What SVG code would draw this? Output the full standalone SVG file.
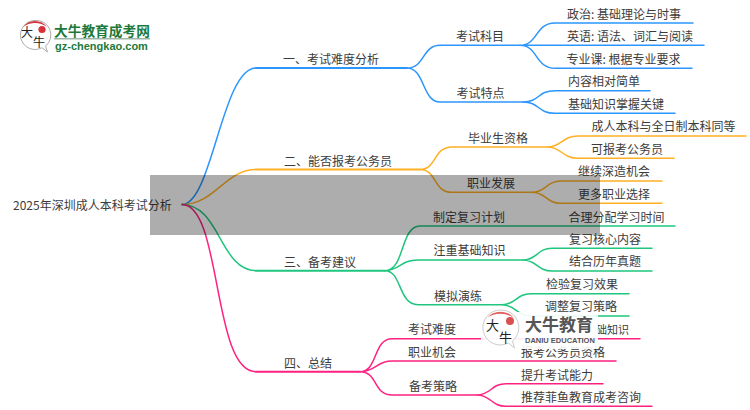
<svg xmlns="http://www.w3.org/2000/svg" width="750" height="410" viewBox="0 0 750 410">
<style>
text{font-family:"Noto Sans CJK SC","Noto Sans",sans-serif;font-size:12px;fill:#3c3c3c}
.c{fill:none;stroke-width:1.5;stroke-linecap:round}
.m{stroke-width:2}
.b{stroke:#2b96ff}.o{stroke:#ffb024}.g{stroke:#1fc67f}.p{stroke:#ff2180}
.lg{font-weight:700;fill:#1c7a3c}
.lk{font-weight:400;fill:#222}
.wm{font-weight:700;fill:#555}
</style>
<rect width="750" height="410" fill="#fff"/>
<g id="connectors">
<path class="c b" d="M182 204.5C212 204.5 222 68 256 68"/><path class="c m b" d="M256 68H407"/>
<path class="c o" d="M182 204.5C215 204.5 225 169.5 256 169.5"/><path class="c m o" d="M256 169.5H420"/>
<path class="c g" d="M182 204.5C220 204.5 220 270.7 256 270.7"/><path class="c m g" d="M256 270.7H385"/>
<path class="c p" d="M182 204.5C222 204.5 212 371.7 256 371.7"/><path class="c m p" d="M256 371.7H360"/>
<path class="c b" d="M407 68C425 68 422 45.3 440 45.3H520M407 68C425 68 422 102 440 102H523"/>
<path class="c b" d="M520 45.3C538 45.3 535 23 555 23H693M520 45.3H704M520 45.3C538 45.3 535 68.3 555 68.3H692"/>
<path class="c b" d="M523 102C540 102 537 90.7 555 90.7H650M523 102C540 102 537 113.3 555 113.3H675"/>
<path class="c o" d="M420 169.5C437 169.5 433 147 452 147H547M420 169.5C437 169.5 433 192.3 452 192.3H532"/>
<path class="c o" d="M547 147C562 147 562 136 578 136H746M547 147C562 147 562 158.3 578 158.3H674"/>
<path class="c o" d="M532 192.3C546 192.3 546 181 561 181H662M532 192.3C546 192.3 546 203.3 561 203.3H662"/>
<path class="c g" d="M385 270.7C405 270.7 400 226 420 226H675M385 270.7C400 270.7 400 260 418 260H523M385 270.7C402 270.7 398 304.7 418 304.7H502"/>
<path class="c g" d="M523 260C537 260 537 248.3 552 248.3H652M523 260C537 260 537 271 552 271H652"/>
<path class="c g" d="M502 304.7C516 304.7 516 293.7 531 293.7H629M502 304.7C516 304.7 516 316 531 316H629"/>
<path class="c p" d="M360 371.7C378 371.7 373 338.7 392 338.7H640M360 371.7C376 371.7 376 361 392 361H616M360 371.7C378 371.7 373 395 392 395H477"/>
<path class="c p" d="M477 395C491 395 491 383.7 506 383.7H603M477 395C491 395 491 406.3 506 406.3H652"/>
</g>
<g id="root"><text x="13" y="210">2025年深圳成人本科考试分析</text></g>
<g id="n1"><text x="283" y="64">一、考试难度分析</text></g>
<g id="n1-1"><text x="456" y="41">考试科目</text></g>
<g id="n1-1-1"><text x="567" y="18.5">政治: 基础理论与时事</text></g>
<g id="n1-1-2"><text x="567" y="41">英语: 语法、词汇与阅读</text></g>
<g id="n1-1-3"><text x="566.5" y="63.5">专业课: 根据专业要求</text></g>
<g id="n1-2"><text x="456.5" y="97.5">考试特点</text></g>
<g id="n1-2-1"><text x="568" y="86">内容相对简单</text></g>
<g id="n1-2-2"><text x="568" y="108.5">基础知识掌握关键</text></g>
<g id="n2"><text x="284" y="165.5">二、能否报考公务员</text></g>
<g id="n2-1"><text x="468" y="142.5">毕业生资格</text></g>
<g id="n2-1-1"><text x="591.5" y="131">成人本科与全日制本科同等</text></g>
<g id="n2-1-2"><text x="591" y="153.5">可报考公务员</text></g>
<g id="n2-2"><text x="467" y="187.5">职业发展</text></g>
<g id="n2-2-1"><text x="578" y="176">继续深造机会</text></g>
<g id="n2-2-2"><text x="578" y="198.5">更多职业选择</text></g>
<g id="n3"><text x="284" y="266.5">三、备考建议</text></g>
<g id="n3-1"><text x="433" y="221.5">制定复习计划</text></g>
<g id="n3-1-1"><text x="568.5" y="221.5">合理分配学习时间</text></g>
<g id="n3-2"><text x="433.5" y="254.5">注重基础知识</text></g>
<g id="n3-2-1"><text x="569" y="243.5">复习核心内容</text></g>
<g id="n3-2-2"><text x="569" y="266">结合历年真题</text></g>
<g id="n3-3"><text x="434" y="300.5">模拟演练</text></g>
<g id="n3-3-1"><text x="546" y="288.5">检验复习效果</text></g>
<g id="n3-3-2"><text x="545" y="310.5">调整复习策略</text></g>
<g id="n4"><text x="284" y="367.5">四、总结</text></g>
<g id="n4-1"><text x="408" y="333.5">考试难度</text></g>
<g id="n4-1-1"><text x="596" y="333.5" style="font-size:11px">础知识</text></g>
<g id="n4-2"><text x="408" y="356.5">职业机会</text></g>
<g id="n4-2-1"><text x="521" y="356.5">报考公务员资格</text></g>
<g id="n4-3"><text x="409" y="390.5">备考策略</text></g>
<g id="n4-3-1"><text x="521" y="379.5">提升考试能力</text></g>
<g id="n4-3-2"><text x="521" y="401.5">推荐菲鱼教育成考咨询</text></g>
<rect x="150" y="175" width="450" height="60" fill="#000" opacity=".32"/>
<g id="logo-top">
<path d="M35 20.500a14.500 14.500 0 1 0 7 27.200l5.500 4.300-2-5.800A14.500 14.500 0 0 0 35 20.500z" fill="#fff" stroke="#aaa" stroke-width="1"/>
<path d="M23 27a15 15 0 0 1 24 0a20 20 0 0 0-24 0z" fill="#d8323a"/>
<circle cx="42" cy="29.500" r="3.600" fill="#d8323a"/>
<text class="lk" x="21" y="37" style="font-size:12px">大</text>
<text class="lk" x="33" y="47" style="font-size:12px">牛</text>
<text class="lg" x="54" y="35.500" style="font-size:13.700px">大牛教育成考网</text>
<rect x="54" y="38" width="96" height="1.500" fill="#9fb5a5"/>
<text class="lg" x="55" y="49.500" style="font-size:11px;font-family:'Liberation Sans',sans-serif">gz-chengkao.com</text>
</g>
<g id="logo-bottom">
<rect x="481" y="312" width="117" height="37" fill="#fff" opacity=".9"/>
<path d="M500.500 310a17.500 17.500 0 1 0 8 33l6 5-2-7A17.500 17.500 0 0 0 500.500 310z" fill="#fff" fill-opacity=".7" stroke="#ccc" stroke-width="1"/>
<path d="M487 318a17.500 17.500 0 0 1 27 0a24 24 0 0 0-27 0z" fill="#e06060"/>
<circle cx="510" cy="321" r="4" fill="#d8504f"/>
<text class="lk" x="486" y="330" style="font-size:13px">大</text>
<text class="lk" x="499" y="342" style="font-size:13px">牛</text>
<text class="wm" x="525" y="330.500" style="font-size:17px">大牛教育</text>
<text class="wm" x="525" y="342.500" style="font-size:7.500px;font-family:'Liberation Sans',sans-serif">DANIU EDUCATION</text>
</g>
</svg>
